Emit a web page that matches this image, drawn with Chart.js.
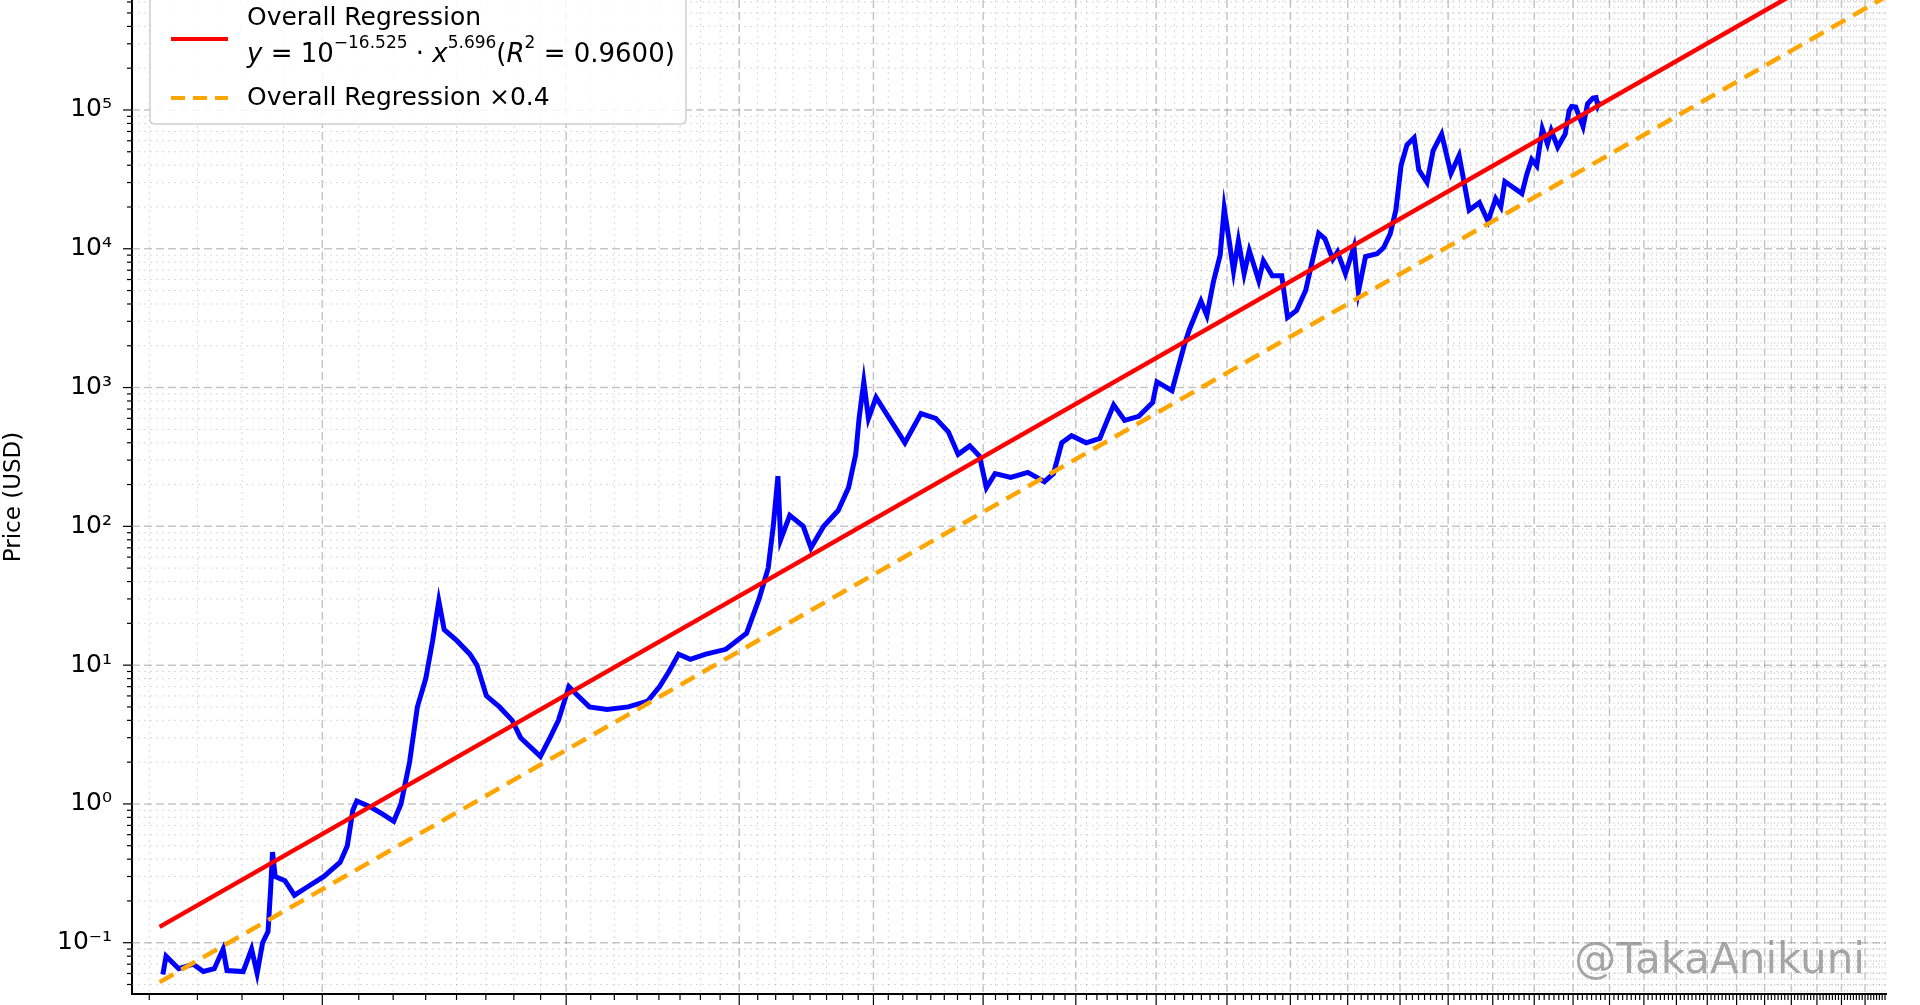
<!DOCTYPE html>
<html>
<head>
<meta charset="utf-8">
<script src="https://cdn.jsdelivr.net/npm/chart.js@4.4.1/dist/chart.umd.min.js"></script>
<style>
  html, body { margin: 0; padding: 0; background: #fff; }
  #wrap { width: 1920px; height: 1005px; }
</style>
</head>
<body>
<div id="wrap"><canvas id="grafico" width="1920" height="1005"></canvas></div>
<script>
// datas e precos
const precoDatas = [
  "2010-07-17","2010-07-20","2010-08-01","2010-08-15","2010-08-25","2010-09-05","2010-09-14","2010-09-18",
  "2010-10-05","2010-10-14","2010-10-20","2010-10-26","2010-11-01","2010-11-04","2010-11-06","2010-11-09",
  "2010-11-20","2010-12-01","2010-12-15","2011-01-05","2011-01-25","2011-02-03","2011-02-10","2011-02-15",
  "2011-03-05","2011-03-20","2011-04-05","2011-04-15","2011-04-27","2011-05-08","2011-05-20","2011-05-30",
  "2011-06-08","2011-06-16","2011-07-05","2011-07-25","2011-08-05","2011-08-20","2011-09-10","2011-10-01",
  "2011-10-15","2011-11-18","2011-12-05","2011-12-20","2012-01-08","2012-01-25","2012-02-15","2012-03-20",
  "2012-05-01","2012-06-10","2012-07-05","2012-07-25","2012-08-15","2012-09-10","2012-10-15","2012-12-01",
  "2013-01-20","2013-02-20","2013-03-15","2013-03-28","2013-04-09","2013-04-16","2013-05-10","2013-06-15",
  "2013-07-06","2013-08-10","2013-09-20","2013-10-20","2013-11-10","2013-11-20","2013-12-04","2013-12-18",
  "2014-01-10","2014-02-20","2014-04-10","2014-06-01","2014-07-20","2014-09-01","2014-10-05","2014-11-15",
  "2014-12-20","2015-01-14","2015-02-15","2015-04-15","2015-06-20","2015-08-25","2015-10-01","2015-11-04",
  "2015-12-15","2016-02-15","2016-04-15","2016-06-16","2016-08-05","2016-10-10","2016-12-15","2017-01-05",
  "2017-03-20","2017-05-20","2017-06-15","2017-08-15","2017-09-15","2017-10-20","2017-11-25","2017-12-17",
  "2018-01-15","2018-02-06","2018-03-05","2018-04-06","2018-05-05","2018-06-28","2018-07-25","2018-09-15",
  "2018-11-10","2018-12-15","2019-02-08","2019-04-05","2019-05-15","2019-06-26","2019-08-05","2019-09-25",
  "2019-10-26","2019-12-17","2020-02-12","2020-03-13","2020-05-01","2020-07-20","2020-09-05","2020-10-21",
  "2020-12-01","2021-01-08","2021-02-20","2021-04-14","2021-05-19","2021-07-20","2021-09-05","2021-11-10",
  "2022-01-22","2022-03-28","2022-06-18","2022-09-10","2022-11-21","2023-01-25","2023-03-10","2023-04-14",
  "2023-09-11","2023-10-25","2023-12-08","2024-01-23","2024-03-14","2024-05-01","2024-06-05","2024-08-05",
  "2024-10-15","2024-11-22","2024-12-17","2025-01-25","2025-04-07","2025-05-22","2025-07-14","2025-08-14",
  "2025-09-01","2025-09-20"
];
const precoUsd = [
  0.059,0.08,0.065,0.07,0.062,0.065,0.09,0.063,
  0.062,0.09,0.06,0.1,0.12,0.25,0.45,0.3,
  0.28,0.22,0.25,0.3,0.38,0.5,0.9,1.05,
  0.95,0.85,0.75,1.0,2.0,5,8,15,
  29,18,15,12,10,6,5,4,
  3,2.2,3,4,7,6,5,4.8,
  5.0,5.5,7,9,12,11,12,13,
  17,30,50,100,230,80,120,100,
  70,100,130,190,330,600,1100,600,
  850,600,400,650,600,480,330,380,
  320,190,240,225,245,210,240,400,
  450,400,430,750,580,620,780,1100,
  950,2000,2600,4200,3300,5800,9000,19500,
  11000,6900,11400,6600,9700,5900,8200,6400,
  6400,3200,3600,5000,8000,12900,11800,8400,
  9500,6600,10300,4900,8800,9200,10200,12800,
  19000,40000,56000,63000,37000,30000,51000,67000,
  35000,47000,19000,21500,15800,23000,20000,30500,
  25000,34500,44000,39500,73000,57000,71000,54000,
  67000,99000,106000,105000,76000,111000,122000,123000,
  108000,116000
];

// extremos das rectas de regressao (dias desde o bloco genese)
const regDias = [557, 9900];
const regPreco = [0.13, 1.71e6];
const regPreco04 = [0.052, 6.84e5];

const decadasY = [-1, 0, 1, 2, 3, 4, 5];
const GENESE = Date.parse("2009-01-03");
const dias = precoDatas.map(d => (Date.parse(d) - GENESE) / 864e5);

const SUP = { "-": "⁻", "0": "⁰", "1": "¹", "2": "²", "3": "³", "4": "⁴", "5": "⁵", "6": "⁶", "7": "⁷", "8": "⁸", "9": "⁹" };
function potencia(e) { return "10" + String(e).split("").map(c => SUP[c]).join(""); }

// grelha estilo matplotlib
const grelha = {
  id: "grelha",
  beforeDatasetsDraw(chart) {
    const { ctx, chartArea: a, scales: { x, y } } = chart;
    ctx.save();
    ctx.beginPath(); ctx.rect(a.left - 12, a.top, a.right - a.left + 12, a.bottom - a.top + 12); ctx.clip();
    // x menores: 1/8 de ano
    for (let k = 8; k <= 27 * 8; k++) {
      const px = x.getPixelForValue(k * 365 / 8);
      if (px < a.left || px > a.right) continue;
      const maior = k % 8 === 0;
      ctx.strokeStyle = maior ? "rgba(150,150,150,0.55)" : "rgba(170,170,170,0.45)";
      ctx.lineWidth = maior ? 1.5 : 1;
      ctx.setLineDash(maior ? [8, 4] : [2, 4]);
      ctx.beginPath(); ctx.moveTo(px, a.top); ctx.lineTo(px, a.bottom); ctx.stroke();
      ctx.setLineDash([]);
      ctx.strokeStyle = "#000"; ctx.lineWidth = 1.2;
      ctx.beginPath(); ctx.moveTo(px, a.bottom); ctx.lineTo(px, a.bottom + (maior ? 11 : 6)); ctx.stroke();
    }
    for (let e = -2; e <= 6; e++) {
      for (let m = 1; m <= 9; m++) {
        const py = y.getPixelForValue(m * Math.pow(10, e));
        if (py < a.top || py > a.bottom) continue;
        const maior = m === 1;
        ctx.strokeStyle = maior ? "rgba(150,150,150,0.55)" : "rgba(170,170,170,0.45)";
        ctx.lineWidth = maior ? 1.5 : 1;
        ctx.setLineDash(maior ? [8, 4] : [2, 4]);
        ctx.beginPath(); ctx.moveTo(a.left, py); ctx.lineTo(a.right, py); ctx.stroke();
        ctx.setLineDash([]);
        ctx.strokeStyle = "#000"; ctx.lineWidth = 1.2;
        ctx.beginPath(); ctx.moveTo(a.left, py); ctx.lineTo(a.left - (maior ? 9 : 5), py); ctx.stroke();
      }
    }
    ctx.restore();
  }
};

function textoSeg(ctx, segs, x, y) {
  segs.forEach(([t, tam, italico, dy]) => {
    ctx.font = (italico ? "italic " : "") + tam + "px 'DejaVu Sans'";
    ctx.fillText(t, x, y + (dy || 0));
    x += ctx.measureText(t).width;
  });
}

// legenda e marca de agua
const extras = {
  id: "extras",
  afterDraw(chart) {
    const { ctx } = chart;
    ctx.save();
    ctx.fillStyle = "rgba(255,255,255,0.85)";
    ctx.strokeStyle = "#d0d0d0"; ctx.lineWidth = 1.5;
    ctx.beginPath(); ctx.roundRect(150, -10, 536, 134, 5); ctx.fill(); ctx.stroke();
    ctx.lineWidth = 4;
    ctx.strokeStyle = "#ff0000";
    ctx.beginPath(); ctx.moveTo(171, 39); ctx.lineTo(228, 39); ctx.stroke();
    ctx.strokeStyle = "#ffa500"; ctx.setLineDash([14, 8]);
    ctx.beginPath(); ctx.moveTo(171, 98); ctx.lineTo(228, 98); ctx.stroke();
    ctx.setLineDash([]);
    ctx.fillStyle = "#000"; ctx.textBaseline = "middle";
    ctx.font = "25px 'DejaVu Sans'";
    ctx.fillText("Overall Regression", 247, 18);
    ctx.fillText("Overall Regression ×0.4", 247, 98);
    textoSeg(ctx, [["y", 26, true], [" = 10", 26], ["−16.525", 17, false, -11], [" · ", 26],
      ["x", 26, true], ["5.696", 17, false, -11], ["(", 26], ["R", 26, true], ["2", 17, false, -11], [" = 0.9600)", 26]], 247, 55);
    ctx.fillStyle = "rgba(130,130,130,0.7)";
    ctx.font = "42px 'DejaVu Sans'";
    ctx.textAlign = "right";
    ctx.fillText("@TakaAnikuni", 1865, 962);
    ctx.restore();
  }
};

new Chart(document.getElementById("grafico").getContext("2d"), {
  type: "scatter",
  data: {
    datasets: [
      { data: regDias.map((d, i) => ({ x: d, y: regPreco[i] })), showLine: true, borderColor: "#ff0000", borderWidth: 4.5, pointRadius: 0 },
      { data: regDias.map((d, i) => ({ x: d, y: regPreco04[i] })), showLine: true, borderColor: "#ffa500", borderWidth: 4.5, borderDash: [16, 9], pointRadius: 0 },
      { data: dias.map((d, i) => ({ x: d, y: precoUsd[i] })), showLine: true, borderColor: "#0000ff", borderWidth: 5, pointRadius: 0 },
    ],
  },
  options: {
    responsive: false,
    animation: false,
    devicePixelRatio: 1,
    layout: { padding: { top: 0, right: 34, left: 0, bottom: 0 } },
    plugins: { legend: { display: false }, tooltip: { enabled: false } },
    scales: {
      x: {
        type: "logarithmic", min: 532, max: 9826,
        ticks: { display: false },
        grid: { display: false },
        border: { color: "#000", width: 2 },
        afterFit: s => { s.height = 11; s.paddingLeft = 0; s.paddingRight = 0; },
      },
      y: {
        type: "logarithmic", min: 0.0427, max: 6.2e5,
        grid: { display: false },
        border: { color: "#000", width: 2 },
        afterBuildTicks: s => { s.ticks = decadasY.map(e => ({ value: Math.pow(10, e) })); },
        ticks: {
          color: "#000", font: { family: "DejaVu Sans", size: 25 }, padding: 12,
          callback: v => potencia(Math.round(Math.log10(v))),
        },
        title: { display: true, text: "Price (USD)", color: "#000", font: { family: "DejaVu Sans", size: 23 }, padding: 0 },
        afterFit: s => { s.width = 132; s.paddingTop = 0; s.paddingBottom = 0; },
      },
    },
  },
  plugins: [grelha, extras],
});
</script>
</body>
</html>
